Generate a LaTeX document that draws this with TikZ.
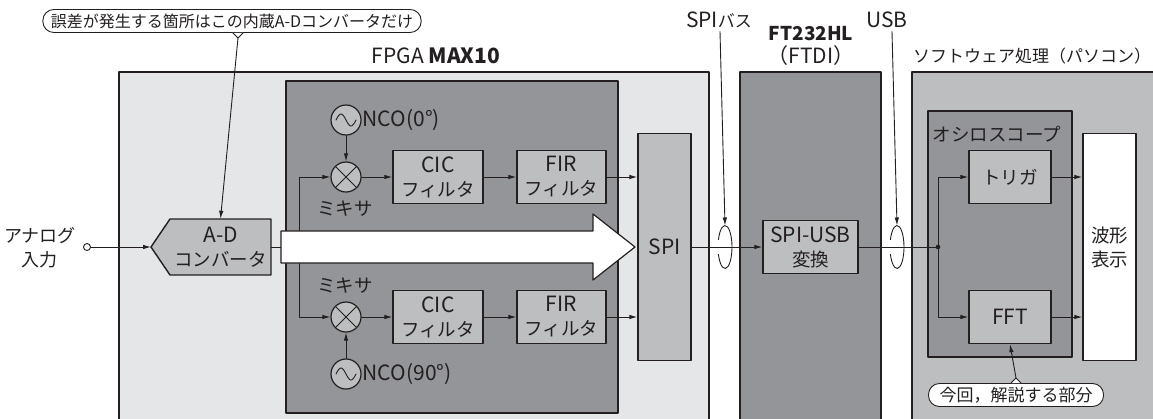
\documentclass[tikz,border=0pt]{standalone}
\usepackage{fontspec}
\setmainfont{Noto Sans CJK JP}
\usetikzlibrary{arrows.meta}
\definecolor{lightfill}{HTML}{E5E6E7}
\definecolor{darkfill}{HTML}{939598}
\definecolor{midfill}{HTML}{BCBEC0}
\definecolor{ink}{HTML}{231F20}
\newcommand\lat{\fontsize{21}{24}\selectfont}
\newcommand\jpsmall{\fontsize{17}{20}\selectfont}
\tikzset{
  blk/.style={draw=ink,line width=1.4pt,fill=midfill,align=center,inner sep=0pt},
  area/.style={draw=ink,line width=1.4pt},
  wire/.style={draw=ink,line width=0.9pt},
  flow/.style={wire,-{Latex[length=8pt,width=4.5pt]}},
  ring/.style={circle,draw=ink,line width=1.2pt,fill=midfill,minimum size=30pt,inner sep=0pt},
  note/.style={draw=ink,line width=0.9pt,fill=white,rounded corners=11pt,minimum height=23pt,inner xsep=8pt,inner ysep=0pt,font=\jpsmall},
}
\begin{document}
\begin{tikzpicture}[x=1pt,y=-1pt,line cap=round,line join=round,
  font=\fontsize{18.5}{24}\selectfont,text=ink]
  \useasboundingbox (0,0) rectangle (1153,418);
  % blocks in the background
  \draw[area,fill=lightfill] (119,72) rectangle (709,430);
  \draw[area,fill=darkfill] (286,81) rectangle (618,413);
  \draw[area,fill=darkfill] (740,72) rectangle (881,430);
  \draw[area,fill=midfill] (912,72) rectangle (1165,430);
  \draw[area,fill=darkfill] (928,111) rectangle (1072,357);
  \node (fpgalbl) at (436,56) {\lat FPGA \textbf{MAX10}};
  \node[align=center] (ftlbl) at (811,46) {\fontsize{19}{20}\selectfont\textbf{FT232HL}\\[-1pt]\lat（FTDI）};
  \node[font=\jpsmall] (pclbl) at (1032,56) {ソフトウェア処理（パソコン）};
  \node[anchor=west] (scopelbl) at (929,134) {オシロスコープ};

  % input and A-D converter
  \node[circle,draw=ink,line width=0.9pt,fill=white,inner sep=0pt,minimum size=7pt] (in) at (87,247) {};
  \node[align=center,font=\fontsize{18}{24}\selectfont] (inlbl) at (40,248) {アナログ\\入力};
  \draw[area,fill=midfill] (151,247) -- (170,219) -- (271,219) -- (271,275) -- (170,275) -- cycle;
  \coordinate (adctip) at (151,247);
  \node[align=center,minimum width=101pt,minimum height=56pt,inner sep=0pt] (adc) at (220.5,247) {\lat A-D\\コンバータ};
  \draw[flow] (in) -- (adctip);
  \coordinate (split) at (299,247);
  \draw[wire] (adc.east) -- (split);

  % I and Q paths
  \node[ring] (mx1) at (346,177) {};
  \node[ring] (mx2) at (346,317) {};
  \node[ring] (nco1) at (346,120) {};
  \node[ring] (nco2) at (346,374) {};
  \foreach \m in {mx1,mx2}
    \draw[wire] ([shift={(-10.5,-10.5)}]\m.center) -- ([shift={(10.5,10.5)}]\m.center)
                ([shift={(-10.5,10.5)}]\m.center) -- ([shift={(10.5,-10.5)}]\m.center);
  \foreach \n in {nco1,nco2}
    \draw[wire,shift={(\n.center)},domain=-10:10,samples=30,smooth] plot (\x,{6*sin(18*\x)});
  \node[anchor=west,inner sep=1pt] (ncolbl1) at (nco1.east) {\lat NCO(0°)};
  \node[anchor=west,inner sep=1pt] (ncolbl2) at (nco2.east) {\lat NCO(90°)};
  \node (mxlbl1) at (345,209) {ミキサ};
  \node (mxlbl2) at (345,286) {ミキサ};
  \node[blk,minimum width=90pt,minimum height=53pt] (cic1) at (438,177) {\lat CIC\\フィルタ};
  \node[blk,minimum width=89pt,minimum height=53pt] (fir1) at (561.5,177) {\lat FIR\\フィルタ};
  \node[blk,minimum width=90pt,minimum height=53pt] (cic2) at (438,317) {\lat CIC\\フィルタ};
  \node[blk,minimum width=89pt,minimum height=53pt] (fir2) at (561.5,317) {\lat FIR\\フィルタ};
  \draw[flow] (split) |- (mx1.west);
  \draw[flow] (split) |- (mx2.west);
  \draw[flow] (nco1) -- (mx1);
  \draw[flow] (nco2) -- (mx2);
  \draw[flow] (mx1) -- (cic1);
  \draw[flow] (mx2) -- (cic2);
  \draw[flow] (cic1) -- (fir1);
  \draw[flow] (cic2) -- (fir2);

  % wide data arrow
  \draw[ink,line width=1.2pt,fill=white] (281,231) -- (593,231) -- (593,214) -- (635,247)
    -- (593,280) -- (593,263) -- (281,263) -- cycle;

  \node[blk,minimum width=53pt,minimum height=227pt] (spi) at (664.5,247) {\lat SPI};
  \draw[flow] (fir1.east) -- (fir1 -| spi.west);
  \draw[flow] (fir2.east) -- (fir2 -| spi.west);
  \node[blk,minimum width=95pt,minimum height=53pt] (spiusb) at (810.5,247) {\lat SPI-USB\\変換};
  \draw[flow] (spi.east) -- (spiusb.west);

  % PC side
  \node[blk,minimum width=82pt,minimum height=53pt] (trig) at (1010,177) {トリガ};
  \node[blk,minimum width=82pt,minimum height=53pt] (fft) at (1010,317) {\lat FFT};
  \node[blk,fill=white,minimum width=53pt,minimum height=227pt] (disp) at (1109.5,247) {波形\\表示};
  \coordinate (jn) at (938,247);
  \draw[wire] (spiusb.east) -- (jn);
  \fill[ink] (jn) circle[radius=2.3];
  \draw[flow] (jn) |- (trig.west);
  \draw[flow] (jn) |- (fft.west);
  \draw[flow] (trig.east) -- (trig -| disp.west);
  \draw[flow] (fft.east) -- (fft -| disp.west);

  % bus loops
  \coordinate (spibus) at (725,247);
  \coordinate (usbbus) at (897,247);
  \foreach \b in {spibus,usbbus}
    \draw[wire] (\b) ++(200:7 and 21.5) arc[start angle=200,end angle=520,x radius=7,y radius=21.5];
  \node (spilbl) at (719,20) {\lat SPI\jpsmall バス};
  \node (usblbl) at (887,20) {\lat USB};
  \draw[flow] ([xshift=1pt]spilbl.south) -- ([yshift=21.5pt]spibus);
  \draw[flow] ([xshift=5pt]usblbl.south) -- ([yshift=21.5pt]usbbus);

  % callouts
  \node[note,font=\fontsize{16}{20}\selectfont] (note1) at (232,21) {誤差が発生する箇所はこの内蔵A-Dコンバータだけ};
  \path[fill=white] ([xshift=1pt]note1.south) -- ([xshift=6pt,yshift=-5pt]note1.south) -- ([xshift=11pt]note1.south) -- cycle;
  \draw[wire] ([xshift=1pt]note1.south) -- ([xshift=6pt,yshift=-5pt]note1.south) -- ([xshift=11pt]note1.south);
  \draw[flow] ([xshift=6pt,yshift=-5pt]note1.south) -- (adc.north);
  \node[note,inner xsep=11pt] (note2) at (1016,395) {今回，解説する部分};
  \path[fill=white] ([xshift=-5pt]note2.north) -- ([yshift=5pt]note2.north) -- ([xshift=5pt]note2.north) -- cycle;
  \draw[wire] ([xshift=-5pt]note2.north) -- ([yshift=5pt]note2.north) -- ([xshift=5pt]note2.north);
  \draw[flow] ([yshift=5pt]note2.north) -- (fft.south);
\end{tikzpicture}
\end{document}
